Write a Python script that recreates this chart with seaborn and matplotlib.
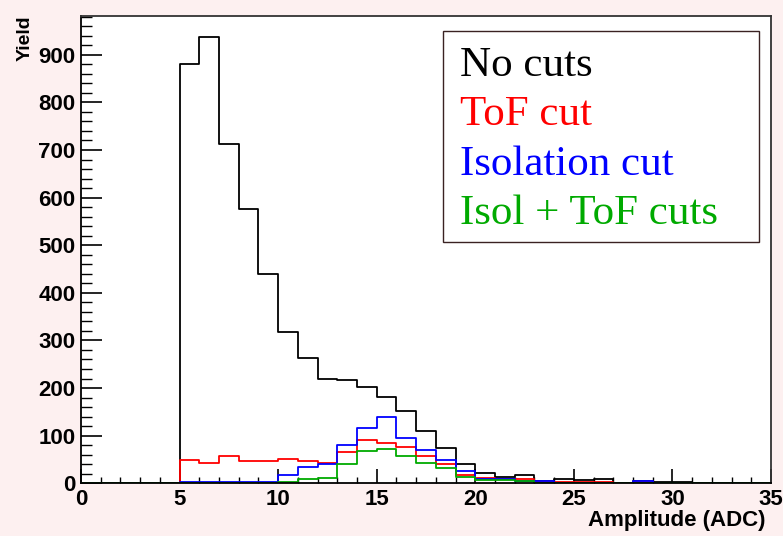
import numpy as np
import pandas as pd
import matplotlib
matplotlib.use("Agg")
import matplotlib.pyplot as plt
from matplotlib.patches import Rectangle
from matplotlib.ticker import MultipleLocator
import seaborn as sns

# ---- data (counts per 1-ADC bin, bins 0..35) ----
bin_edges = list(range(0, 36))
no_cuts = [0, 0, 0, 0, 0, 880, 937, 713, 577, 440, 318, 263, 220, 216, 202, 182, 152, 110, 74, 41,
           22, 14, 17, 5, 10, 7, 10, 0, 4, 3, 3, 1, 1, 0, 0]
tof_cut = [0, 0, 0, 0, 0, 48, 42, 57, 46, 46, 52, 46, 43, 65, 90, 84, 77, 58, 41, 17,
           12, 8, 10, 2, 3, 2, 3, 0, 2, 1, 0, 0, 0, 0, 0]
iso_cut = [0, 0, 0, 0, 0, 2, 2, 3, 2, 2, 17, 35, 40, 81, 117, 140, 95, 70, 48, 25,
           10, 9, 5, 4, 1, 1, 1, 0, 4, 1, 0, 0, 0, 0, 0]
iso_tof = [0, 0, 0, 0, 0, 0, 0, 0, 0, 0, 3, 8, 12, 41, 68, 73, 58, 43, 33, 13,
           6, 6, 5, 1, 1, 0, 0, 0, 1, 0, 0, 0, 0, 0, 0]
labels = ["No cuts", "ToF cut", "Isolation cut", "Isol + ToF cuts"]
colors = ["#000000", "#ff0000", "#0000ff", "#00aa00"]

centers = [e + 0.5 for e in bin_edges[:-1]]
frames = []
for lab, vals in zip(labels, [no_cuts, tof_cut, iso_cut, iso_tof]):
    frames.append(pd.DataFrame({"amp": centers, "count": vals, "series": lab}))
df = pd.concat(frames, ignore_index=True)

W, H = 783, 536
fig = plt.figure(figsize=(W / 100, H / 100), dpi=100)
fig.patch.set_facecolor("#fdf0f0")
ax = fig.add_axes([81 / W, 1 - 483.3 / H, (771 - 81) / W, (483.3 - 15.7) / H])
ax.set_facecolor("white")

# draw in reverse so black ends up on top like ROOT draw order
for lab, col in zip(labels, colors):
    sub = df[df["series"] == lab]
    sns.histplot(data=sub, x="amp", weights="count", bins=bin_edges, element="step",
                 fill=False, color=col, linewidth=1.3, ax=ax)

ax.set_xlim(0, 35)
ax.set_ylim(0, 982)
ax.set_xlabel("")
ax.set_ylabel("")

ax.xaxis.set_major_locator(MultipleLocator(5))
ax.xaxis.set_minor_locator(MultipleLocator(1))
ax.yaxis.set_major_locator(MultipleLocator(100))
ax.yaxis.set_minor_locator(MultipleLocator(20))
ax.tick_params(axis="x", which="major", direction="in", length=10, width=1.2, pad=4,
               labelsize=16)
ax.tick_params(axis="x", which="minor", direction="in", length=4.5, width=1.0)
ax.tick_params(axis="y", which="major", direction="in", length=15, width=1.2, pad=4,
               labelsize=16)
ax.tick_params(axis="y", which="minor", direction="in", length=8, width=1.0)
ax.tick_params(top=False, right=False, which="both")
for lbl in ax.get_xticklabels() + ax.get_yticklabels():
    lbl.set_fontfamily("Liberation Sans")
    lbl.set_fontweight("bold")
for sp in ax.spines.values():
    sp.set_color("black")
    sp.set_linewidth(1.3)
ax.spines["top"].set_color("#333333")
ax.spines["right"].set_color("#333333")
ax.grid(False)

# axis titles
fig.text(765 / W, 1 - 526 / H, "Amplitude (ADC)", ha="right", va="baseline",
         fontsize=16, fontweight="bold", family="Liberation Sans")
fig.text(25 / W, 1 - 15 / H, "Yield", ha="center", va="top", rotation=90,
         fontsize=14, fontweight="bold", family="Liberation Sans")

# legend box (ROOT style)
box = Rectangle((443 / W, 1 - 242 / H), (759 - 443) / W, (242 - 31) / H,
                transform=fig.transFigure, facecolor="white", edgecolor="#3a2222",
                linewidth=1.0, zorder=5)
fig.patches.append(box)
baselines = [76, 125, 175, 224]
for lab, col, yb in zip(labels, colors, baselines):
    fig.text(460 / W, 1 - yb / H, lab, color=col, ha="left", va="baseline",
             fontsize=31, family="Liberation Serif", zorder=6)

fig.savefig("out.png", dpi=100, facecolor=fig.get_facecolor())
